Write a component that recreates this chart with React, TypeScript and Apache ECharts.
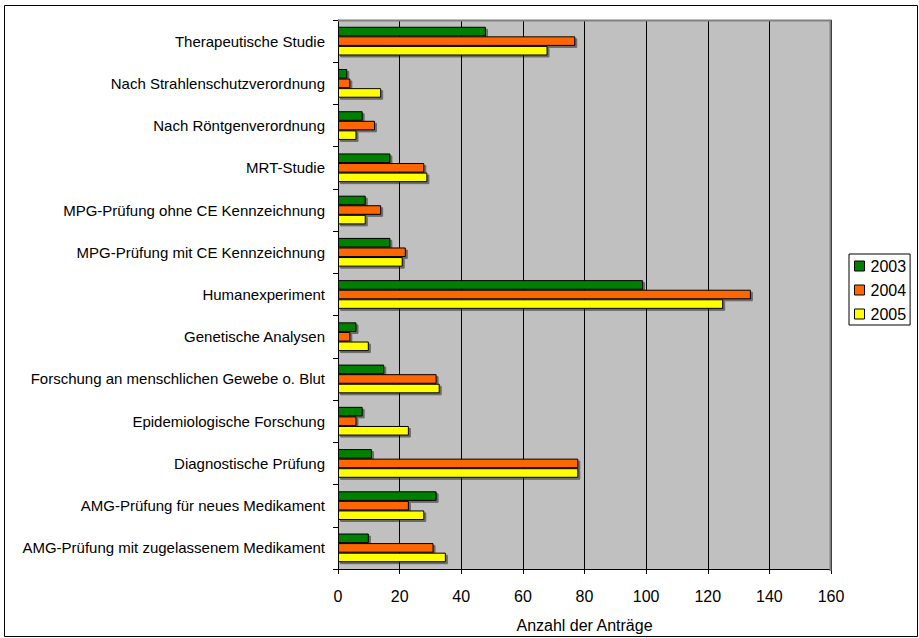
import React, { useEffect, useRef } from "react";
import * as echarts from "echarts";

// Antragsarten (von oben nach unten)
const categories = [
  "Therapeutische Studie",
  "Nach Strahlenschutzverordnung",
  "Nach Röntgenverordnung",
  "MRT-Studie",
  "MPG-Prüfung ohne CE Kennzeichnung",
  "MPG-Prüfung mit CE Kennzeichnung",
  "Humanexperiment",
  "Genetische Analysen",
  "Forschung an menschlichen Gewebe o. Blut",
  "Epidemiologische Forschung",
  "Diagnostische Prüfung",
  "AMG-Prüfung für neues Medikament",
  "AMG-Prüfung mit zugelassenem Medikament",
];

const years = ["2003", "2004", "2005"];
const values2003 = [48, 3, 8, 17, 9, 17, 99, 6, 15, 8, 11, 32, 10];
const values2004 = [77, 4, 12, 28, 14, 22, 134, 4, 32, 6, 78, 23, 31];
const values2005 = [68, 14, 6, 29, 9, 21, 125, 10, 33, 23, 78, 28, 35];
const colors = ["#008000", "#FF6600", "#FFFF00"];

const xTicks = { min: 0, max: 160, interval: 20 };
const xAxisTitle = "Anzahl der Anträge";

const FONT = "'Liberation Sans', Arial, sans-serif";

export default function App() {
  const ref = useRef<HTMLDivElement>(null);

  useEffect(() => {
    if (!ref.current) return;
    const chart = echarts.init(ref.current, null, { renderer: "svg" });
    const seriesData = [values2003, values2004, values2005];

    chart.setOption({
      animation: false,
      backgroundColor: "#ffffff",
      textStyle: { fontFamily: FONT },
      grid: { left: 338, right: 88, top: 20, bottom: 67, show: true, backgroundColor: "#C0C0C0", borderWidth: 0 },
      legend: {
        orient: "vertical",
        left: 849,
        top: 254,
        padding: [4, 4, 3, 5],
        borderColor: "#000000",
        borderWidth: 1,
        backgroundColor: "#ffffff",
        itemWidth: 10,
        itemHeight: 10,
        itemGap: 8,
        icon: "rect",
        data: years,
        itemStyle: { borderColor: "#000", borderWidth: 1 },
        textStyle: { fontFamily: FONT, fontSize: 16, color: "#000", padding: [0, 0, 0, 1] },
      },
      xAxis: {
        type: "value",
        min: xTicks.min,
        max: xTicks.max,
        interval: xTicks.interval,
        name: xAxisTitle,
        nameLocation: "middle",
        nameGap: 48,
        nameTextStyle: { fontFamily: FONT, fontSize: 16, color: "#000" },
        axisLine: { show: true, lineStyle: { color: "#000", width: 1 } },
        axisTick: { show: true, inside: false, length: 5, lineStyle: { color: "#000" } },
        axisLabel: { fontFamily: FONT, fontSize: 16, color: "#000", margin: 19 },
        splitLine: { show: true, lineStyle: { color: "#000", width: 1 } },
      },
      yAxis: {
        type: "category",
        data: categories,
        inverse: true,
        axisLine: { show: true, lineStyle: { color: "#000", width: 1 } },
        axisTick: { show: true, length: 5, lineStyle: { color: "#000" } },
        axisLabel: { fontFamily: FONT, fontSize: 15, color: "#000", margin: 13 },
      },
      graphic: [
        {
          type: "rect",
          shape: { x: 4.5, y: 5.5, width: 913, height: 631 },
          style: { fill: "none", stroke: "#000", lineWidth: 1 },
          silent: true,
        },
        {
          type: "polyline",
          shape: { points: [[338, 20.5], [830.5, 20.5], [830.5, 571]] },
          style: { fill: "none", stroke: "#808080", lineWidth: 2 },
          silent: true,
          z: 1,
        },
      ],
      series: years.map((y, i) => ({
        name: y,
        type: "bar",
        data: seriesData[i],
        barGap: "0%",
        barCategoryGap: "32%",
        itemStyle: {
          color: colors[i],
          borderColor: "#000",
          borderWidth: 1,
          shadowColor: "rgba(0,0,0,0.45)",
          shadowOffsetX: 2,
          shadowOffsetY: 2,
          shadowBlur: 0,
        },
      })),
    });

    return () => chart.dispose();
  }, []);

  return (
    <div
      ref={ref}
      style={{ position: "fixed", left: 0, top: 0, width: 919, height: 638 }}
    />
  );
}
